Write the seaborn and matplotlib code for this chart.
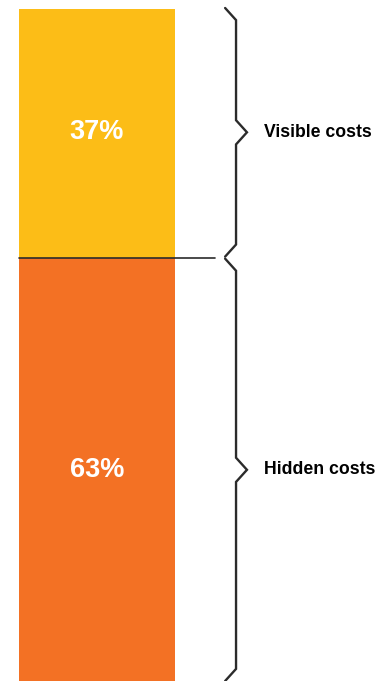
import pandas as pd
import matplotlib.pyplot as plt
import seaborn as sns

# paleta
AMARELO = "#FCBD17"
LARANJA = "#F37124"
LINHA = "#2B2B2B"

# dados
categorias = ["Visible costs", "Hidden costs"]
valores = [37, 63]
rotulos = ["37%", "63%"]

df = pd.DataFrame({"grupo": ["total", "total"], "categoria": categorias, "valor": valores})

sns.set_style("white")
plt.rcParams["font.family"] = ["Liberation Sans", "DejaVu Sans"]

fig = plt.figure(figsize=(3.91, 6.81), dpi=100)
ax = fig.add_axes([0, 0, 1, 672 / 681])

# barra empilhada: escondido embaixo, visivel em cima
base = df["valor"].iloc[1]
total = df["valor"].sum()
sns.barplot(x=["total"], y=[total], color=AMARELO, ax=ax, width=0.8,
            saturation=1, linewidth=0)
sns.barplot(x=["total"], y=[base], color=LARANJA, ax=ax, width=0.8,
            saturation=1, linewidth=0)

ax.set_xlim(-97 / 195, 294 / 195)
ax.set_ylim(0, total)
ax.axis("off")

# linha divisoria
ax.plot([-0.4, 0.605], [base, base], color=LINHA, lw=1.2, clip_on=False)

# chaves
def chave(y0, y1, x=0.713, d=0.056, dy=1.8):
    ym = (y0 + y1) / 2
    xs = [x - d, x, x, x + d, x, x, x - d]
    ys = [y1, y1 - dy, ym + dy, ym, ym - dy, y0 + dy, y0]
    ax.plot(xs, ys, color=LINHA, lw=1.7, clip_on=False, solid_joinstyle="miter")

limites = [(base + 0.15, total + 0.15), (0, base - 0.15)]
for (y0, y1), cat, rot in zip(limites, categorias, rotulos):
    ym = (y0 + y1) / 2
    chave(y0, y1)
    ax.text(0.856, ym, cat, ha="left", va="center", fontsize=12.7,
            fontweight="bold", color="black")
    ax.text(0, ym, rot, ha="center", va="center", fontsize=19.5,
            fontweight="bold", color="white")

fig.savefig("out.png", dpi=100)
